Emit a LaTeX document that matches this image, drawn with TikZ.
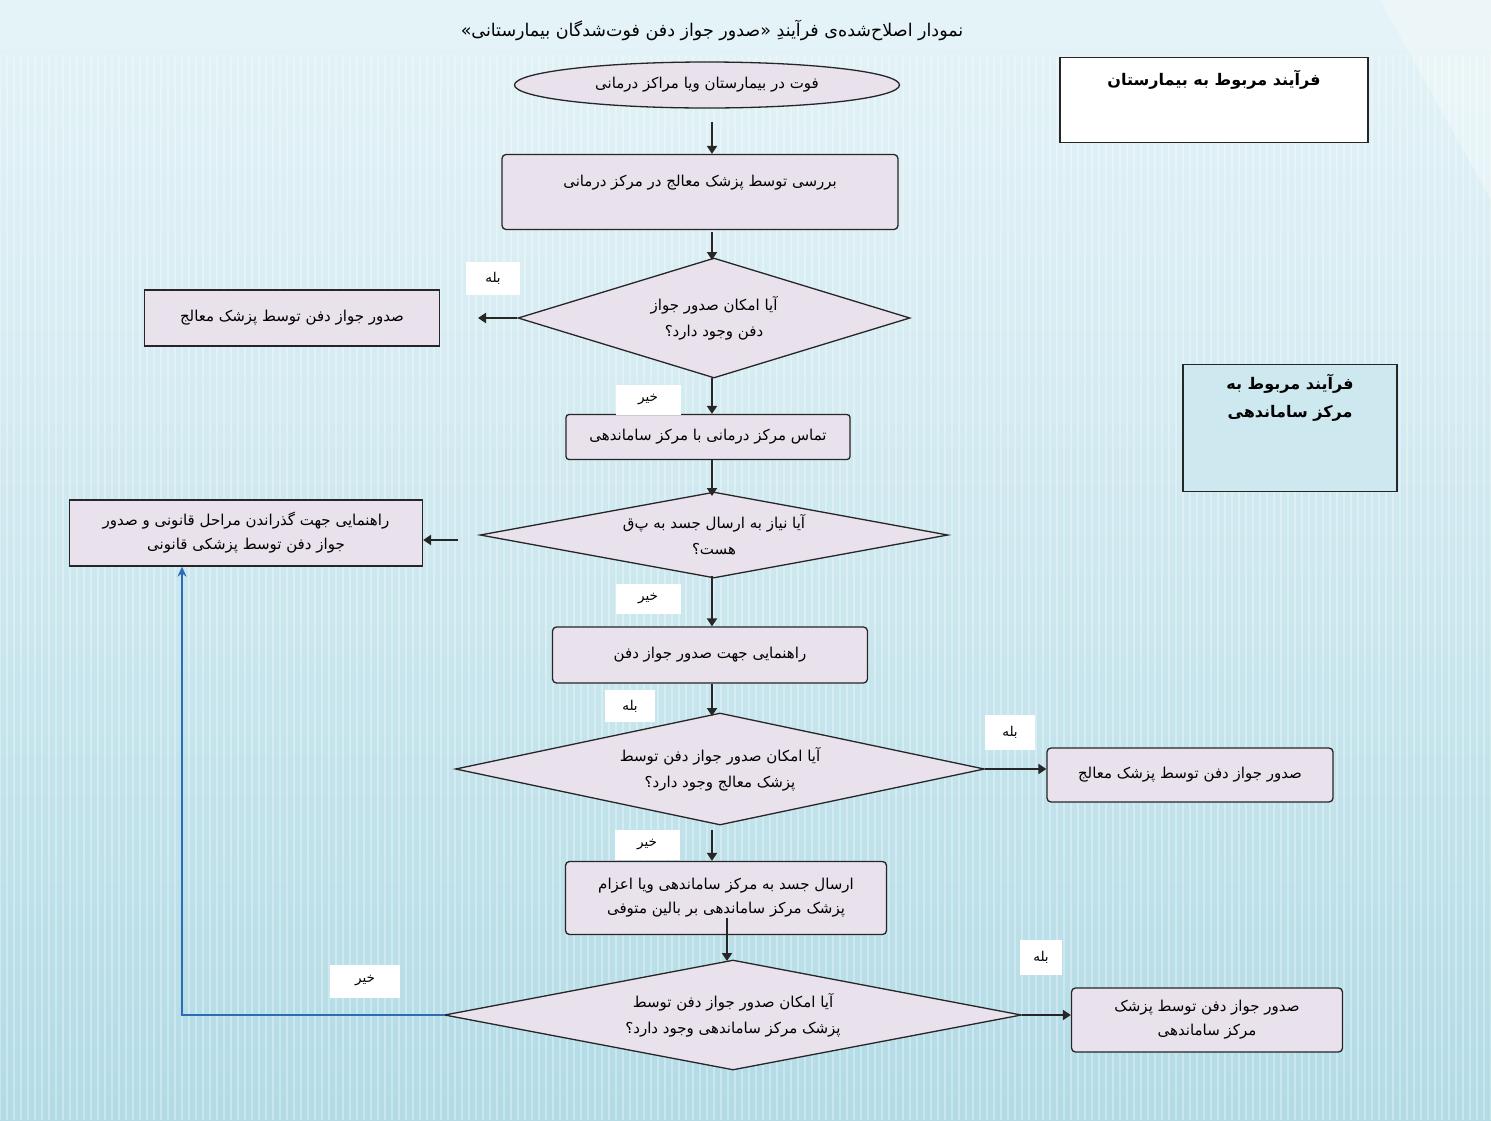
\documentclass[tikz,border=0pt]{standalone}
\usepackage{fontspec}
\usetikzlibrary{shapes.geometric,arrows.meta}
\TeXXeTstate=1
\newfontfamily\arabicfont[Script=Arabic]{DejaVu Sans}
\newcommand{\fatxt}[1]{\beginR #1\endR}
\definecolor{boxfill}{HTML}{E9E1EC}
\definecolor{bgtop}{HTML}{E4F3F7}
\definecolor{bgmid}{HTML}{CDE8EF}
\definecolor{bgbot}{HTML}{B2DBE6}
\definecolor{edge}{HTML}{262626}
\definecolor{bluearrow}{HTML}{2E6DB4}
\begin{document}
\begin{tikzpicture}[x=1pt,y=-1pt,
  txt/.style={font=\arabicfont\fontsize{15}{22}\selectfont, align=center, inner sep=0pt},
  box/.style={draw=edge, line width=1.3pt, fill=boxfill, rounded corners=4pt, inner sep=2pt,
    font=\arabicfont\fontsize{15}{24}\selectfont, align=center},
  sqbox/.style={box, rounded corners=0pt},
  dia/.style={diamond, draw=edge, line width=1.3pt, fill=boxfill, inner sep=0pt,
    font=\arabicfont\fontsize{15}{26}\selectfont, align=center},
  ans/.style={fill=white, inner sep=0pt, font=\arabicfont\fontsize{13.5}{14}\selectfont},
  arr/.style={draw=edge, line width=2.8pt, -{Triangle[length=8pt,width=10pt]}},
  barr/.style={draw=bluearrow, line width=1.6pt, -{Stealth[length=10pt,width=9pt]}}
]
% background
\useasboundingbox (0,0) rectangle (1491,1120);
\shade[top color=bgtop, bottom color=bgbot, middle color=bgmid] (0,0) rectangle (1491,1120);
\foreach \i in {0,7,...,1491} {
  \draw[white, opacity=0.3, line width=1.7pt] (\i,55) -- (\i,1120);
}
\fill[bgtop] (0,0) rectangle (1491,50);
\fill[white, opacity=0.3] (1380,0) -- (1491,0) -- (1491,200) -- cycle;

% title
\node[txt, font=\arabicfont\fontsize{17.5}{20}\selectfont] (title) at (712,30)
  {\fatxt{نمودار اصلاح‌شده‌ی فرآیندِ «صدور جواز دفن فوت‌شدگان بیمارستانی»}};

% side boxes
\node[draw=edge, line width=1.5pt, fill=white, minimum width=308, minimum height=85] (tr1) at (1214,100) {};
\node[txt, font=\arabicfont\bfseries\fontsize{16}{22}\selectfont] (tr1t) at (1214,80) {\fatxt{فرآیند مربوط به بیمارستان}};
\node[draw=edge, line width=1.5pt, fill=bgmid, minimum width=214, minimum height=127] (tr2) at (1290,428) {};
\node[txt, font=\arabicfont\bfseries\fontsize{16}{28}\selectfont] (tr2t) at (1290,398) {\fatxt{فرآیند مربوط به}\\\fatxt{مرکز ساماندهی}};

% main nodes
\node[ellipse, draw=edge, line width=1.3pt, fill=boxfill, minimum width=385, minimum height=46, inner sep=0pt,
  font=\arabicfont\fontsize{15}{22}\selectfont] (start) at (707,85) {\fatxt{فوت در بیمارستان ویا مراکز درمانی}};

\node[box, minimum width=396, minimum height=75] (r1) at (700,192) {};
\node[txt] (r1t) at (700,183) {\fatxt{بررسی توسط پزشک معالج در مرکز درمانی}};

\node[dia, shape aspect=3.27, minimum width=392, minimum height=120] (d1) at (714,318)
  {\fatxt{آیا امکان صدور جواز}\\\fatxt{دفن وجود دارد؟}};
\node[sqbox, minimum width=295, minimum height=56] (r1L) at (292,318) {\fatxt{صدور جواز دفن توسط پزشک معالج}};

\node[box, rounded corners=3pt, minimum width=284, minimum height=45] (r2) at (708,437) {\fatxt{تماس مرکز درمانی با مرکز ساماندهی}};

\node[dia, shape aspect=5.44, minimum width=468, minimum height=86] (d2) at (714,535)
  {\fatxt{آیا نیاز به ارسال جسد به پ‌ق}\\\fatxt{هست؟}};
\node[sqbox, minimum width=353, minimum height=66] (r2L) at (246,533)
  {\fatxt{راهنمایی جهت گذراندن مراحل قانونی و صدور}\\\fatxt{جواز دفن توسط پزشکی قانونی}};

\node[box, minimum width=315, minimum height=56] (r3) at (710,655) {\fatxt{راهنمایی جهت صدور جواز دفن}};

\node[dia, shape aspect=4.72, minimum width=529, minimum height=112] (d3) at (720,769)
  {\fatxt{آیا امکان صدور جواز دفن توسط}\\\fatxt{پزشک معالج وجود دارد؟}};
\node[box, minimum width=286, minimum height=54] (r3R) at (1190,775) {\fatxt{صدور جواز دفن توسط پزشک معالج}};

\node[box, minimum width=321, minimum height=73] (r4) at (726,898)
  {\fatxt{ارسال جسد به مرکز ساماندهی ویا اعزام}\\\fatxt{پزشک مرکز ساماندهی بر بالین متوفی}};

\node[dia, shape aspect=5.25, minimum width=577, minimum height=110] (d4) at (733,1015)
  {\fatxt{آیا امکان صدور جواز دفن توسط}\\\fatxt{پزشک مرکز ساماندهی وجود دارد؟}};
\node[box, minimum width=271, minimum height=64] (r4R) at (1207,1020)
  {\fatxt{صدور جواز دفن توسط پزشک}\\\fatxt{مرکز ساماندهی}};

% answer labels
\node[ans, minimum width=54, minimum height=33] (y1) at (493,278) {\fatxt{بله}};
\node[ans, minimum width=65, minimum height=30] (n1) at (648,400) {\fatxt{خیر}};
\node[ans, minimum width=65, minimum height=30] (n2) at (648,599) {\fatxt{خیر}};
\node[ans, minimum width=50, minimum height=32] (y2) at (630,706) {\fatxt{بله}};
\node[ans, minimum width=50, minimum height=35] (y3) at (1010,732) {\fatxt{بله}};
\node[ans, minimum width=65, minimum height=30] (n3) at (647,845) {\fatxt{خیر}};
\node[ans, minimum width=42, minimum height=35] (y4) at (1041,957) {\fatxt{بله}};
\node[ans, minimum width=70, minimum height=33] (n4) at (365,981) {\fatxt{خیر}};

% connectors
\coordinate (s1) at (712,122);
\draw[arr] (s1) -- (s1 |- r1.north);
\coordinate (s2) at (712,232);
\draw[arr] (s2) -- (712,260);
\coordinate (a1) at (478,318);
\draw[arr] (d1.west) -- (a1);
\coordinate (s3) at (712,378);
\draw[arr] (s3) -- (s3 |- r2.north);
\coordinate (s4) at (712,460);
\draw[arr] (s4) -- (712,496);
\coordinate (c2) at (458,540);
\draw[arr] (c2) -- (c2 -| r2L.east);
\coordinate (s5) at (712,576);
\draw[arr] (s5) -- (s5 |- r3.north);
\coordinate (s6) at (712,684);
\draw[arr] (s6) -- (712,716);
\draw[arr] (d3.east) -- (d3.east -| r3R.west);
\coordinate (s7) at (712,830);
\draw[arr] (s7) -- (s7 |- r4.north);
\coordinate (s8) at (727,918);
\draw[arr] (s8) -- (727,961);
\draw[arr] (d4.east) -- (d4.east -| r4R.west);
\coordinate (bturn) at (182,1015);
\draw[barr] (d4.west) -- (bturn) -- (bturn |- r2L.south);
\end{tikzpicture}
\end{document}
